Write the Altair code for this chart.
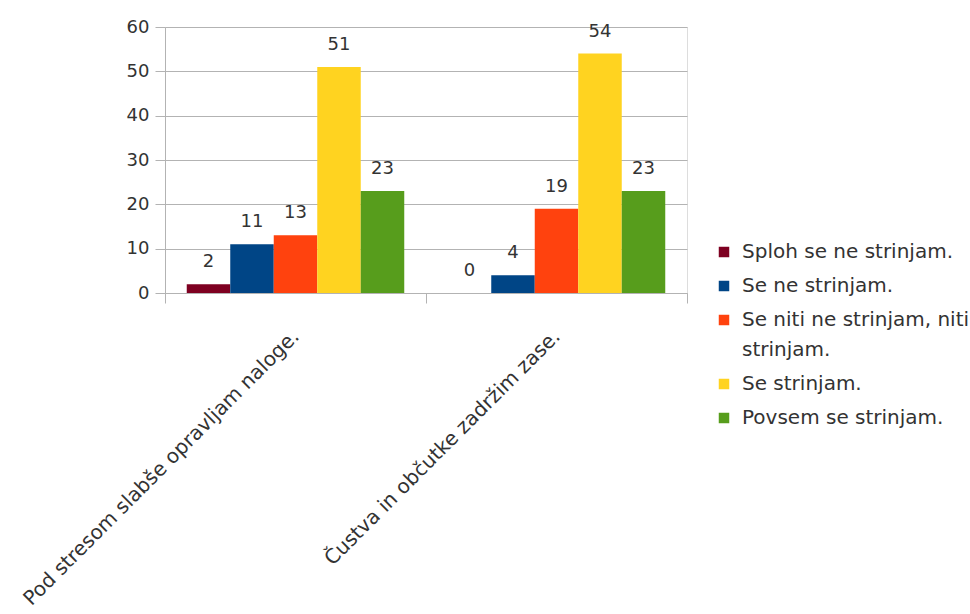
import altair as alt
import pandas as pd

# Survey statements (categories) and answer options (series)
statements = [
    "Pod stresom slabše opravljam naloge.",
    "Čustva in občutke zadržim zase.",
]
answers = [
    "Sploh se ne strinjam.",
    "Se ne strinjam.",
    "Se niti ne strinjam, niti strinjam.",
    "Se strinjam.",
    "Povsem se strinjam.",
]
colors = ["#7E0021", "#004586", "#FF420E", "#FFD320", "#579D1C"]

# Counts per answer option, one list per statement
counts_stress = [2, 11, 13, 51, 23]
counts_emotions = [0, 4, 19, 54, 23]

rows = []
for stmt, counts in zip(statements, [counts_stress, counts_emotions]):
    for ans, val in zip(answers, counts):
        rows.append({"statement": stmt, "answer": ans, "count": val})
df = pd.DataFrame(rows)

FONT = "DejaVu Sans"
TXT = "#333333"
GRID = "#b3b3b3"

x_enc = alt.X(
    "statement:N",
    sort=statements,
    title=None,
    scale=alt.Scale(paddingInner=0, paddingOuter=0),
    axis=alt.Axis(
        labelAngle=315,
        labelAlign="right",
        labelBaseline="middle",
        labelFont=FONT,
        labelFontSize=20,
        labelColor=TXT,
        labelLimit=600,
        labelPadding=30,
        tickBand="extent",
        tickSize=10,
        tickColor=GRID,
        domainColor=GRID,
        grid=False,
    ),
)
xoff_enc = alt.XOffset(
    "answer:N",
    sort=answers,
    scale=alt.Scale(paddingInner=0, paddingOuter=0.5),
)
y_enc = alt.Y(
    "count:Q",
    title=None,
    scale=alt.Scale(domain=[0, 60], nice=False),
    axis=alt.Axis(
        values=[0, 10, 20, 30, 40, 50, 60],
        labelFont=FONT,
        labelFontSize=18,
        labelColor=TXT,
        labelPadding=6,
        tickSize=10,
        tickColor=GRID,
        domainColor=GRID,
        gridColor=GRID,
        gridWidth=1,
    ),
)

# the long middle option is shown on two lines
wrap_expr = (
    "datum.label == 'Se niti ne strinjam, niti strinjam.' "
    "? ['Se niti ne strinjam, niti', 'strinjam.'] : datum.label"
)

color_enc = alt.Color(
    "answer:N",
    sort=answers,
    scale=alt.Scale(domain=answers, range=colors),
    legend=alt.Legend(
        title=None,
        orient="none",
        legendX=549,
        legendY=215,
        symbolType="square",
        symbolSize=110,
        symbolStrokeWidth=0,
        labelFont=FONT,
        labelFontSize=20,
        labelColor=TXT,
        labelLimit=400,
        labelOffset=8,
        rowPadding=14,
        labelExpr=wrap_expr,
    ),
)

bars = alt.Chart(df).mark_bar(size=43.5).encode(
    x=x_enc, xOffset=xoff_enc, y=y_enc, color=color_enc
)

labels = alt.Chart(df).mark_text(
    font=FONT, fontSize=18, color=TXT, baseline="bottom", dy=-13
).encode(
    x=alt.X("statement:N", sort=statements),
    xOffset=alt.XOffset("answer:N", sort=answers),
    y="count:Q",
    text="count:Q",
)

chart = (
    alt.layer(bars, labels)
    .properties(
        width=522,
        height=266,
        autosize=alt.AutoSizeParams(type="none"),
        padding={"left": 165, "top": 27, "right": 283, "bottom": 321},
    )
    .configure_view(stroke=GRID, strokeWidth=1)
    .configure(background="white", style={"guide-label": {"lineHeight": 30}})
)

chart.save("out.html", embed_options={"renderer": "svg", "actions": False})
